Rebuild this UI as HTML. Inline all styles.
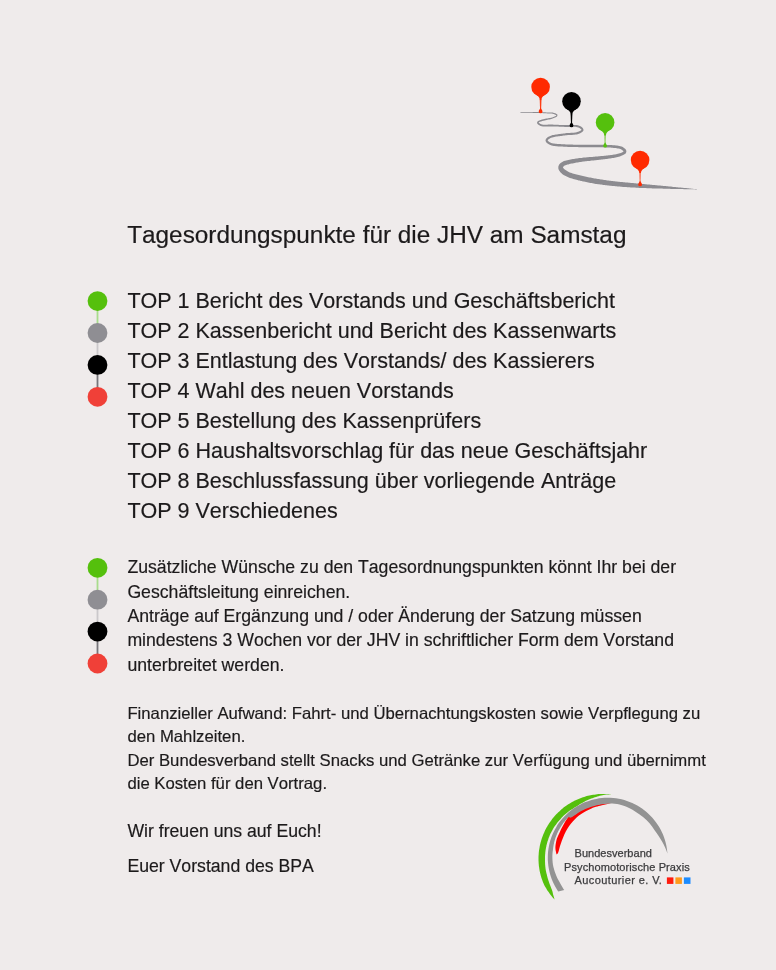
<!DOCTYPE html>
<html><head><meta charset="utf-8"><title>JHV</title>
<style>
html,body{margin:0;padding:0;}
body{width:776px;height:970px;background:#efebeb;position:relative;overflow:hidden;font-family:"Liberation Sans",sans-serif;color:#1c1a1b;}
.t{position:absolute;white-space:nowrap;left:127.4px;font-kerning:none;font-feature-settings:'kern' 0;-webkit-text-stroke:0.18px #1c1a1b;filter:blur(0.35px);}
.lg{position:absolute;white-space:nowrap;font-size:11px;line-height:14px;color:#3b3b3d;-webkit-text-stroke:0.25px #3b3b3d;filter:blur(0.35px);}
svg{position:absolute;left:0;top:0;}
</style></head><body>
<svg width="776" height="970" viewBox="0 0 776 970"><defs><filter id="soft" x="-5%" y="-5%" width="110%" height="110%"><feGaussianBlur stdDeviation="0.45"/></filter></defs><g filter="url(#soft)"><path d="M520.3 112.6 L521.4 112.7 L522.5 112.7 L523.6 112.7 L524.7 112.7 L525.8 112.7 L526.8 112.8 L527.9 112.8 L529.0 112.8 L530.1 112.8 L531.2 112.8 L532.2 112.8 L533.3 112.9 L534.4 112.9 L535.5 112.9 L536.6 112.9 L537.7 113.0 L538.7 113.0 L539.8 113.0 L541.0 113.1 L542.1 113.1 L543.2 113.2 L544.3 113.2 L545.4 113.3 L546.4 113.3 L547.5 113.4 L548.6 113.4 L549.6 113.4 L550.6 113.4 L551.6 113.5 L552.6 113.7 L553.7 113.9 L554.9 114.4 L555.9 114.9 L556.4 115.4 L556.4 115.4 L555.7 115.9 L554.6 116.5 L553.4 117.0 L552.2 117.4 L551.1 117.7 L550.1 117.9 L549.2 118.1 L548.2 118.3 L547.3 118.5 L546.3 118.6 L545.3 118.8 L544.3 119.1 L543.2 119.3 L542.0 119.6 L540.6 120.0 L539.3 120.5 L538.1 121.0 L537.1 122.0 L537.2 123.4 L538.1 124.4 L539.3 125.2 L540.6 125.9 L541.8 126.3 L543.0 126.5 L544.2 126.6 L545.3 126.6 L546.3 126.5 L547.4 126.5 L548.4 126.4 L549.4 126.4 L550.5 126.4 L551.6 126.4 L552.7 126.4 L553.7 126.5 L554.8 126.5 L555.9 126.5 L557.0 126.6 L558.1 126.6 L559.2 126.7 L560.3 126.7 L561.5 126.8 L562.6 126.8 L563.7 126.8 L564.8 126.9 L565.9 126.9 L567.0 126.9 L568.1 126.9 L569.2 126.9 L570.2 126.9 L571.3 126.9 L572.4 126.8 L573.4 126.8 L574.4 126.8 L575.4 126.8 L576.4 127.0 L577.4 127.2 L578.4 127.5 L579.5 128.1 L580.5 128.7 L581.2 129.3 L581.4 129.8 L581.4 129.9 L581.1 130.3 L580.4 130.8 L579.3 131.3 L578.2 131.8 L577.1 132.1 L576.0 132.4 L575.0 132.5 L574.0 132.7 L573.0 132.7 L572.0 132.8 L571.0 132.8 L569.9 132.9 L568.8 132.9 L567.7 133.0 L566.6 133.1 L565.5 133.2 L564.4 133.4 L563.3 133.5 L562.2 133.7 L561.1 133.8 L560.1 134.0 L559.0 134.1 L558.0 134.2 L556.9 134.4 L555.9 134.5 L554.8 134.7 L553.7 134.9 L552.6 135.1 L551.5 135.5 L550.3 135.9 L549.1 136.5 L547.9 137.1 L546.8 138.0 L545.9 139.0 L545.5 140.5 L546.0 141.9 L546.9 143.0 L548.0 143.8 L549.2 144.6 L550.4 145.1 L551.6 145.5 L552.7 145.8 L553.8 146.0 L554.9 146.1 L556.0 146.2 L557.0 146.3 L558.1 146.4 L559.2 146.4 L560.3 146.5 L561.4 146.6 L562.5 146.6 L563.6 146.7 L564.7 146.7 L565.8 146.8 L566.9 146.8 L568.0 146.9 L569.1 146.9 L570.2 147.0 L571.3 147.0 L572.4 147.0 L573.5 147.1 L574.5 147.1 L575.6 147.1 L576.7 147.1 L577.8 147.1 L578.9 147.2 L580.0 147.2 L581.1 147.2 L582.1 147.2 L583.2 147.2 L584.3 147.2 L585.4 147.2 L586.5 147.2 L587.6 147.2 L588.6 147.2 L589.7 147.2 L590.8 147.2 L591.9 147.2 L593.0 147.2 L594.0 147.2 L595.1 147.2 L596.2 147.2 L597.3 147.3 L598.4 147.3 L599.5 147.3 L600.6 147.3 L601.7 147.3 L602.8 147.3 L603.9 147.3 L605.0 147.4 L606.0 147.4 L607.1 147.5 L608.2 147.5 L609.3 147.6 L610.4 147.6 L611.5 147.7 L612.6 147.8 L613.6 147.9 L614.7 148.0 L615.7 148.1 L616.7 148.2 L617.7 148.4 L618.7 148.6 L619.6 148.8 L620.5 149.1 L621.4 149.6 L622.3 150.2 L623.1 150.8 L623.5 151.4 L623.6 151.4 L623.5 151.4 L622.9 151.9 L621.9 152.4 L620.9 152.9 L619.8 153.2 L618.9 153.5 L617.9 153.8 L617.0 154.0 L616.0 154.2 L615.0 154.4 L614.0 154.6 L612.9 154.8 L611.9 154.9 L610.8 155.1 L609.7 155.2 L608.6 155.3 L607.6 155.5 L606.5 155.6 L605.4 155.7 L604.3 155.8 L603.2 155.9 L602.1 156.0 L601.0 156.1 L599.9 156.2 L598.8 156.3 L597.8 156.4 L596.7 156.5 L595.6 156.6 L594.5 156.7 L593.5 156.8 L592.4 156.9 L591.3 157.0 L590.2 157.0 L589.1 157.1 L588.1 157.2 L587.0 157.3 L585.9 157.4 L584.8 157.5 L583.7 157.6 L582.6 157.7 L581.5 157.9 L580.4 158.0 L579.3 158.1 L578.2 158.2 L577.1 158.4 L576.0 158.6 L575.0 158.7 L573.9 158.9 L572.8 159.1 L571.7 159.3 L570.6 159.5 L569.5 159.7 L568.4 160.0 L567.3 160.2 L566.2 160.5 L565.1 160.8 L563.9 161.1 L562.7 161.7 L561.4 162.4 L560.3 163.3 L559.2 164.6 L558.4 166.2 L558.3 168.2 L558.8 170.0 L559.7 171.3 L560.6 172.4 L561.5 173.3 L562.5 174.2 L563.6 174.9 L564.6 175.5 L565.6 176.1 L566.7 176.6 L567.7 177.1 L568.8 177.5 L569.9 177.9 L571.0 178.3 L572.1 178.6 L573.2 179.0 L574.3 179.3 L575.4 179.5 L576.5 179.8 L577.5 180.1 L578.6 180.4 L579.7 180.6 L580.8 180.9 L581.8 181.1 L582.9 181.4 L584.0 181.6 L585.0 181.8 L586.1 182.1 L587.2 182.3 L588.2 182.5 L589.3 182.7 L590.4 182.9 L591.5 183.1 L592.6 183.3 L593.7 183.5 L594.7 183.7 L595.8 183.9 L596.9 184.0 L598.0 184.2 L599.1 184.3 L600.2 184.5 L601.3 184.6 L602.4 184.8 L603.4 184.9 L604.5 185.0 L605.6 185.2 L606.7 185.3 L607.8 185.4 L608.9 185.5 L610.0 185.7 L611.1 185.8 L612.1 185.9 L613.2 186.0 L614.3 186.1 L615.4 186.2 L616.5 186.3 L617.6 186.4 L618.7 186.5 L619.8 186.6 L620.9 186.7 L621.9 186.8 L623.0 186.9 L624.1 186.9 L625.2 187.0 L626.3 187.1 L627.4 187.2 L628.5 187.2 L629.6 187.3 L630.6 187.4 L631.7 187.4 L632.8 187.5 L633.9 187.6 L635.0 187.6 L636.1 187.7 L637.2 187.7 L638.3 187.8 L639.3 187.9 L640.4 187.9 L641.5 188.0 L642.6 188.0 L643.7 188.0 L644.8 188.1 L645.9 188.1 L647.0 188.2 L648.0 188.2 L649.1 188.2 L650.2 188.3 L651.3 188.3 L652.4 188.4 L653.5 188.4 L654.6 188.4 L655.7 188.5 L656.7 188.5 L657.8 188.5 L658.9 188.6 L660.0 188.6 L661.1 188.6 L662.2 188.6 L663.3 188.7 L664.4 188.7 L665.5 188.7 L666.5 188.8 L667.6 188.8 L668.7 188.8 L669.8 188.8 L670.9 188.9 L672.0 188.9 L673.1 188.9 L674.2 188.9 L675.2 189.0 L676.3 189.0 L677.4 189.0 L678.5 189.0 L679.6 189.1 L680.7 189.1 L681.8 189.1 L682.9 189.1 L683.9 189.2 L685.0 189.2 L686.1 189.2 L687.2 189.2 L688.3 189.3 L689.4 189.3 L690.5 189.3 L691.6 189.3 L692.6 189.3 L693.7 189.3 L694.8 189.3 L695.9 189.4 L697.0 189.4 L697.0 189.2 L695.9 189.1 L694.8 189.0 L693.8 188.9 L692.7 188.8 L691.6 188.7 L690.5 188.6 L689.4 188.5 L688.3 188.3 L687.3 188.2 L686.2 188.1 L685.1 188.0 L684.0 187.9 L682.9 187.8 L681.8 187.7 L680.8 187.6 L679.7 187.5 L678.6 187.4 L677.5 187.3 L676.4 187.2 L675.4 187.1 L674.3 187.0 L673.2 186.9 L672.1 186.7 L671.0 186.6 L669.9 186.5 L668.9 186.4 L667.8 186.3 L666.7 186.2 L665.6 186.1 L664.5 186.0 L663.4 185.9 L662.4 185.8 L661.3 185.7 L660.2 185.6 L659.1 185.5 L658.0 185.4 L656.9 185.3 L655.9 185.2 L654.8 185.1 L653.7 185.0 L652.6 184.9 L651.5 184.8 L650.5 184.7 L649.4 184.6 L648.3 184.5 L647.2 184.4 L646.1 184.3 L645.0 184.2 L644.0 184.1 L642.9 184.0 L641.8 183.9 L640.7 183.8 L639.6 183.7 L638.6 183.6 L637.5 183.5 L636.4 183.4 L635.3 183.3 L634.2 183.2 L633.1 183.1 L632.1 183.0 L631.0 182.9 L629.9 182.8 L628.8 182.7 L627.7 182.6 L626.7 182.5 L625.6 182.4 L624.5 182.3 L623.4 182.2 L622.3 182.1 L621.3 182.0 L620.2 181.9 L619.1 181.8 L618.0 181.7 L617.0 181.6 L615.9 181.4 L614.8 181.3 L613.8 181.2 L612.7 181.1 L611.6 180.9 L610.5 180.8 L609.5 180.7 L608.4 180.5 L607.3 180.4 L606.3 180.2 L605.2 180.1 L604.1 179.9 L603.0 179.8 L602.0 179.6 L600.9 179.5 L599.8 179.3 L598.8 179.1 L597.7 179.0 L596.6 178.8 L595.6 178.6 L594.5 178.4 L593.5 178.2 L592.4 178.0 L591.4 177.8 L590.3 177.6 L589.3 177.4 L588.2 177.2 L587.2 177.0 L586.1 176.8 L585.1 176.5 L584.0 176.3 L583.0 176.0 L581.9 175.8 L580.9 175.5 L579.8 175.3 L578.8 175.0 L577.7 174.8 L576.6 174.5 L575.6 174.3 L574.6 174.0 L573.6 173.7 L572.6 173.4 L571.6 173.1 L570.6 172.7 L569.7 172.4 L568.8 172.0 L567.9 171.5 L567.1 171.1 L566.3 170.6 L565.5 170.1 L564.8 169.6 L564.1 169.0 L563.5 168.3 L563.1 167.8 L563.0 167.5 L562.9 167.4 L563.1 167.1 L563.5 166.5 L564.0 166.0 L564.7 165.6 L565.4 165.2 L566.3 164.9 L567.3 164.6 L568.4 164.4 L569.4 164.1 L570.4 163.8 L571.5 163.6 L572.5 163.4 L573.6 163.2 L574.6 162.9 L575.6 162.7 L576.7 162.6 L577.7 162.4 L578.8 162.2 L579.9 162.0 L580.9 161.9 L582.0 161.8 L583.0 161.6 L584.1 161.5 L585.2 161.3 L586.3 161.2 L587.3 161.1 L588.4 161.0 L589.5 160.9 L590.6 160.8 L591.6 160.6 L592.7 160.5 L593.8 160.4 L594.9 160.3 L596.0 160.2 L597.0 160.1 L598.1 159.9 L599.2 159.8 L600.3 159.7 L601.4 159.6 L602.5 159.4 L603.5 159.3 L604.6 159.2 L605.7 159.0 L606.9 158.9 L608.0 158.8 L609.1 158.6 L610.2 158.4 L611.3 158.3 L612.4 158.1 L613.5 157.9 L614.5 157.7 L615.6 157.5 L616.6 157.3 L617.7 157.0 L618.7 156.8 L619.8 156.5 L620.9 156.1 L622.0 155.6 L623.2 155.1 L624.5 154.3 L625.7 153.4 L626.4 151.8 L626.1 150.0 L625.1 148.8 L624.0 147.9 L622.8 147.1 L621.6 146.6 L620.4 146.2 L619.3 145.9 L618.1 145.7 L617.1 145.5 L616.0 145.4 L614.9 145.3 L613.8 145.2 L612.8 145.2 L611.7 145.1 L610.6 145.0 L609.4 145.0 L608.3 144.9 L607.2 144.9 L606.1 144.9 L605.0 144.9 L603.9 144.8 L602.8 144.8 L601.7 144.8 L600.6 144.8 L599.5 144.8 L598.4 144.8 L597.3 144.8 L596.2 144.8 L595.1 144.8 L594.1 144.8 L593.0 144.8 L591.9 144.8 L590.8 144.8 L589.7 144.8 L588.6 144.8 L587.6 144.8 L586.5 144.8 L585.4 144.8 L584.3 144.8 L583.2 144.8 L582.2 144.8 L581.1 144.8 L580.0 144.8 L578.9 144.8 L577.8 144.7 L576.8 144.7 L575.7 144.7 L574.6 144.7 L573.5 144.7 L572.4 144.6 L571.3 144.6 L570.2 144.6 L569.2 144.5 L568.1 144.5 L567.0 144.4 L565.9 144.4 L564.8 144.3 L563.7 144.3 L562.6 144.2 L561.5 144.2 L560.4 144.1 L559.3 144.0 L558.3 144.0 L557.2 143.9 L556.2 143.8 L555.1 143.7 L554.1 143.6 L553.2 143.5 L552.2 143.3 L551.2 142.9 L550.3 142.5 L549.3 141.9 L548.4 141.3 L547.9 140.7 L547.7 140.3 L547.8 140.1 L548.2 139.6 L549.1 138.9 L550.1 138.3 L551.1 137.8 L552.2 137.5 L553.2 137.2 L554.2 136.9 L555.1 136.7 L556.1 136.6 L557.2 136.5 L558.2 136.3 L559.3 136.2 L560.4 136.1 L561.4 135.9 L562.5 135.8 L563.6 135.6 L564.7 135.5 L565.8 135.3 L566.9 135.2 L567.9 135.1 L569.0 135.0 L570.0 135.0 L571.0 134.9 L572.1 134.9 L573.1 134.8 L574.2 134.8 L575.3 134.6 L576.5 134.4 L577.6 134.2 L578.9 133.8 L580.2 133.3 L581.4 132.6 L582.5 131.8 L583.4 130.7 L583.4 129.2 L582.7 128.0 L581.7 127.0 L580.5 126.3 L579.2 125.7 L577.9 125.3 L576.7 125.0 L575.5 124.9 L574.4 124.9 L573.3 124.9 L572.3 124.9 L571.2 125.0 L570.2 125.0 L569.1 125.0 L568.1 125.0 L567.0 125.1 L565.9 125.0 L564.8 125.0 L563.7 125.0 L562.6 125.0 L561.5 125.0 L560.4 124.9 L559.3 124.9 L558.2 124.8 L557.1 124.8 L556.0 124.7 L554.9 124.7 L553.8 124.7 L552.7 124.6 L551.6 124.6 L550.5 124.6 L549.4 124.6 L548.3 124.6 L547.3 124.7 L546.2 124.8 L545.2 124.8 L544.2 124.8 L543.2 124.8 L542.2 124.6 L541.2 124.3 L540.1 123.8 L539.1 123.1 L538.6 122.6 L538.6 122.6 L538.9 122.3 L539.8 121.8 L541.1 121.4 L542.3 121.0 L543.5 120.7 L544.6 120.4 L545.6 120.2 L546.6 119.9 L547.5 119.8 L548.5 119.6 L549.4 119.4 L550.4 119.2 L551.4 118.9 L552.6 118.6 L553.8 118.1 L555.1 117.6 L556.4 117.0 L557.3 116.1 L557.5 114.8 L556.6 113.9 L555.3 113.3 L554.0 112.9 L552.8 112.6 L551.7 112.5 L550.6 112.4 L549.6 112.4 L548.6 112.4 L547.5 112.4 L546.5 112.4 L545.4 112.3 L544.3 112.3 L543.2 112.3 L542.1 112.2 L541.0 112.2 L539.9 112.1 L538.8 112.1 L537.7 112.1 L536.6 112.1 L535.5 112.0 L534.4 112.0 L533.3 112.0 L532.2 112.0 L531.2 112.0 L530.1 112.0 L529.0 112.0 L527.9 112.0 L526.8 112.0 L525.8 112.0 L524.7 112.0 L523.6 112.0 L522.5 112.0 L521.4 112.0 L520.3 112.0Z" fill="#8c8b90"/><g fill="#ff2b00"><circle cx="540.6" cy="87.0" r="9.3"/><path d="M534.4 93.6 Q539.6 96.2 539.8 100.0 L541.4 100.0 Q541.6 96.2 546.8 93.6Z"/><path d="M539.70 99.5 L541.50 99.5 L541.10 110.0 L540.10 110.0Z" opacity="0.90"/><path d="M540.6 107.6 C540.3 109.2 538.7 110.2 538.7 111.4 A1.9 1.9 0 1 0 542.5 111.4 C542.5 110.2 540.9 109.2 540.6 107.6Z"/></g><g fill="#000000"><circle cx="571.5" cy="101.3" r="9.3"/><path d="M565.3 107.9 Q570.5 110.5 570.7 114.3 L572.3 114.3 Q572.5 110.5 577.7 107.9Z"/><path d="M570.60 113.8 L572.40 113.8 L572.00 124.0 L571.00 124.0Z" opacity="1.00"/><path d="M571.5 121.6 C571.2 123.2 569.6 124.2 569.6 125.4 A1.9 1.9 0 1 0 573.4 125.4 C573.4 124.2 571.8 123.2 571.5 121.6Z"/></g><g fill="#55c010"><circle cx="605.1" cy="122.4" r="9.3"/><path d="M598.9 129.0 Q604.1 131.6 604.3 135.4 L605.9 135.4 Q606.1 131.6 611.3 129.0Z"/><path d="M604.20 134.9 L606.00 134.9 L605.60 144.3 L604.60 144.3Z" opacity="0.60"/><path d="M605.1 141.9 C604.8 143.5 603.2 144.5 603.2 145.7 A1.9 1.9 0 1 0 607.0 145.7 C607.0 144.5 605.4 143.5 605.1 141.9Z"/></g><g fill="#ff2b00"><circle cx="640.1" cy="160.1" r="9.3"/><path d="M633.9 166.7 Q639.1 169.3 639.3 173.1 L640.9 173.1 Q641.1 169.3 646.3 166.7Z"/><path d="M639.20 172.6 L641.00 172.6 L640.60 183.0 L639.60 183.0Z" opacity="0.60"/><path d="M640.1 180.6 C639.8 182.2 638.2 183.2 638.2 184.4 A1.9 1.9 0 1 0 642.0 184.4 C642.0 183.2 640.4 182.2 640.1 180.6Z"/></g><rect x="96.6" y="301.1" width="1.8" height="32" fill="#a9dc8c"/><rect x="96.6" y="333.1" width="1.8" height="32" fill="#cbc8cb"/><rect x="96.6" y="365.1" width="1.8" height="32" fill="#77757a"/><circle cx="97.5" cy="301.1" r="9.9" fill="#55c010"/><circle cx="97.5" cy="333.0" r="9.9" fill="#8f8e93"/><circle cx="97.5" cy="364.9" r="9.9" fill="#000000"/><circle cx="97.5" cy="396.8" r="9.9" fill="#f04137"/><rect x="96.6" y="567.8" width="1.8" height="32" fill="#a9dc8c"/><rect x="96.6" y="599.8" width="1.8" height="32" fill="#cbc8cb"/><rect x="96.6" y="631.8" width="1.8" height="32" fill="#77757a"/><circle cx="97.5" cy="567.8" r="9.9" fill="#55c010"/><circle cx="97.5" cy="599.7" r="9.9" fill="#8f8e93"/><circle cx="97.5" cy="631.6" r="9.9" fill="#000000"/><circle cx="97.5" cy="663.5" r="9.9" fill="#f04137"/></g><g filter="url(#soft)"><path d="M611.6 794.3 C611.1 794.3 609.8 794.1 609.0 794.1 C608.1 794.0 607.2 793.9 606.3 793.9 C605.4 793.9 604.5 793.9 603.7 793.9 C602.8 793.9 601.9 793.9 601.0 793.9 C600.1 794.0 599.3 794.0 598.4 794.1 C597.5 794.2 596.6 794.3 595.8 794.4 C594.9 794.5 594.0 794.6 593.1 794.7 C592.3 794.9 591.4 795.0 590.5 795.2 C589.7 795.4 588.8 795.6 588.0 795.8 C587.1 796.0 586.3 796.3 585.4 796.5 C584.6 796.8 583.7 797.0 582.9 797.3 C582.1 797.6 581.3 797.9 580.4 798.2 C579.6 798.5 578.8 798.8 578.0 799.2 C577.2 799.5 576.4 799.9 575.6 800.3 C574.8 800.7 574.0 801.1 573.2 801.5 C572.5 801.9 571.7 802.3 570.9 802.7 C570.2 803.2 569.4 803.6 568.7 804.1 C567.9 804.6 567.2 805.1 566.5 805.6 C565.8 806.1 565.0 806.6 564.3 807.1 C563.6 807.7 563.0 808.2 562.3 808.8 C561.6 809.3 560.9 809.9 560.3 810.5 C559.6 811.1 559.0 811.7 558.3 812.3 C557.7 812.9 557.1 813.5 556.5 814.1 C555.9 814.8 555.3 815.4 554.7 816.1 C554.1 816.7 553.6 817.4 553.0 818.1 C552.5 818.8 551.9 819.5 551.4 820.2 C550.9 820.9 550.4 821.6 549.9 822.3 C549.4 823.0 548.9 823.8 548.4 824.5 C548.0 825.2 547.5 826.0 547.1 826.8 C546.6 827.5 546.2 828.3 545.8 829.1 C545.4 829.8 545.0 830.6 544.6 831.4 C544.3 832.2 543.9 833.0 543.6 833.8 C543.2 834.6 542.9 835.5 542.6 836.3 C542.3 837.1 542.0 837.9 541.7 838.8 C541.4 839.6 541.2 840.4 541.0 841.3 C540.7 842.1 540.5 843.0 540.3 843.8 C540.1 844.7 539.9 845.5 539.7 846.4 C539.6 847.3 539.4 848.1 539.3 849.0 C539.1 849.9 539.0 850.7 538.9 851.6 C538.8 852.5 538.7 853.3 538.7 854.2 C538.6 855.1 538.6 856.0 538.5 856.8 C538.5 857.7 538.5 858.6 538.5 859.5 C538.5 860.3 538.5 861.2 538.6 862.1 C538.6 863.0 538.7 863.8 538.8 864.7 C538.8 865.6 538.9 866.5 539.1 867.3 C539.2 868.2 539.3 869.1 539.5 869.9 C539.6 870.8 539.8 871.6 540.0 872.5 C540.2 873.4 540.4 874.2 540.6 875.1 C540.8 875.9 541.1 876.7 541.3 877.6 C541.6 878.4 541.9 879.2 542.2 880.1 C542.5 880.9 542.8 881.7 543.1 882.5 C543.5 883.3 543.9 884.1 544.2 884.9 C544.6 885.7 545.1 886.4 545.5 887.2 C545.9 887.9 546.4 888.7 546.8 889.4 C547.3 890.2 547.8 890.9 548.2 891.6 C548.7 892.3 549.2 893.0 549.7 893.7 C550.2 894.4 550.7 895.1 551.3 895.8 C551.8 896.5 552.3 897.2 552.9 897.8 C553.5 898.5 554.3 899.4 554.6 899.7 L554.6 899.7 C554.5 899.3 554.1 898.0 553.9 897.1 C553.6 896.2 553.4 895.4 553.1 894.5 C552.9 893.6 552.8 892.7 552.6 891.9 C552.3 891.1 552.1 890.3 551.8 889.5 C551.5 888.7 551.2 888.0 550.9 887.2 C550.6 886.5 550.3 885.7 550.0 885.0 C549.8 884.2 549.5 883.5 549.2 882.7 C548.9 882.0 548.7 881.2 548.4 880.5 C548.2 879.7 547.9 878.9 547.7 878.2 C547.5 877.4 547.3 876.6 547.1 875.9 C546.9 875.1 546.7 874.3 546.5 873.6 C546.3 872.8 546.2 872.0 546.0 871.2 C545.9 870.4 545.7 869.7 545.6 868.9 C545.5 868.1 545.4 867.3 545.3 866.5 C545.3 865.7 545.2 865.0 545.1 864.2 C545.1 863.4 545.1 862.6 545.0 861.8 C545.0 861.0 545.0 860.2 545.0 859.4 C545.0 858.6 545.0 857.9 545.0 857.1 C545.0 856.3 545.1 855.5 545.1 854.7 C545.2 853.9 545.3 853.1 545.3 852.3 C545.4 851.6 545.5 850.8 545.6 850.0 C545.8 849.2 545.9 848.4 546.0 847.7 C546.2 846.9 546.4 846.1 546.5 845.3 C546.7 844.6 546.9 843.8 547.1 843.0 C547.3 842.3 547.5 841.5 547.8 840.8 C548.0 840.0 548.3 839.3 548.5 838.5 C548.8 837.8 549.1 837.0 549.4 836.3 C549.7 835.6 550.0 834.8 550.3 834.1 C550.7 833.4 551.0 832.7 551.4 832.0 C551.7 831.3 552.1 830.6 552.5 829.9 C552.9 829.2 553.3 828.5 553.7 827.8 C554.1 827.2 554.6 826.5 555.0 825.8 C555.5 825.2 555.9 824.5 556.4 823.9 C556.9 823.3 557.3 822.6 557.8 822.0 C558.3 821.4 558.8 820.8 559.4 820.2 C559.9 819.6 560.4 819.0 561.0 818.4 C561.5 817.8 562.1 817.3 562.6 816.7 C563.2 816.2 563.8 815.6 564.4 815.1 C565.0 814.5 565.6 814.0 566.2 813.5 C566.8 813.0 567.4 812.5 568.0 812.0 C568.7 811.5 569.3 811.0 569.9 810.6 C570.6 810.1 571.2 809.7 571.9 809.2 C572.6 808.8 573.2 808.4 573.9 807.9 C574.6 807.5 575.3 807.1 576.0 806.7 C576.6 806.3 577.3 805.8 578.0 805.4 C578.7 805.0 579.4 804.5 580.1 804.1 C580.8 803.7 581.5 803.3 582.2 802.9 C582.9 802.5 583.6 802.1 584.4 801.7 C585.1 801.3 585.8 801.0 586.6 800.6 C587.4 800.2 588.1 799.9 588.9 799.6 C589.7 799.2 590.4 798.9 591.2 798.6 C592.0 798.3 592.8 798.0 593.6 797.7 C594.4 797.4 595.2 797.1 596.1 796.9 C596.9 796.6 597.7 796.4 598.5 796.2 C599.4 795.9 600.2 795.7 601.1 795.5 C601.9 795.3 602.8 795.1 603.7 795.0 C604.5 794.9 605.4 794.7 606.3 794.6 C607.2 794.5 608.0 794.5 608.9 794.4 C609.8 794.4 611.1 794.3 611.6 794.3Z" fill="#55c010"/><path d="M556.6 854.6 C556.4 853.5 555.4 850.4 555.4 848.0 C555.4 845.6 555.9 842.5 556.5 840.0 C557.1 837.5 558.1 835.9 559.3 833.2 C560.5 830.5 562.3 826.7 563.9 824.0 C565.5 821.3 567.4 818.0 568.6 816.8 C569.8 815.6 569.8 817.4 571.0 816.9 C572.2 816.4 574.4 814.8 576.1 813.7 C577.8 812.6 578.6 811.6 581.2 810.3 C583.8 809.0 588.0 807.2 591.5 806.1 C595.0 805.0 598.6 804.3 601.9 803.8 C605.1 803.3 609.5 803.4 611.0 803.3 L601.9 805.3 C600.2 805.8 595.0 806.9 591.5 808.4 C588.0 809.9 584.3 811.9 581.2 814.0 C578.1 816.1 575.6 818.3 573.0 821.2 C570.4 824.1 567.8 827.8 565.8 831.5 C563.8 835.2 562.1 840.2 560.8 843.7 C559.5 847.2 558.9 850.7 558.2 852.5 C557.5 854.3 556.9 854.2 556.6 854.6Z" fill="#ff0000"/><path d="M558.3 891.5 C557.8 890.7 556.2 888.4 555.3 886.7 C554.4 885.1 553.6 883.4 552.8 881.7 C552.1 880.0 551.4 878.2 550.8 876.4 C550.2 874.6 549.7 872.8 549.3 871.0 C548.9 869.1 548.5 867.3 548.3 865.4 C548.1 863.5 547.9 861.7 547.8 859.8 C547.8 857.9 547.8 856.0 547.9 854.1 C548.0 852.3 548.2 850.4 548.5 848.5 C548.8 846.7 549.2 844.8 549.6 843.0 C550.1 841.2 550.6 839.4 551.3 837.6 C551.9 835.8 552.6 834.1 553.4 832.4 C554.2 830.7 555.1 829.0 556.1 827.4 C557.0 825.7 558.0 824.2 559.1 822.6 C560.2 821.1 561.4 819.6 562.7 818.2 C563.9 816.8 565.2 815.4 566.6 814.2 C567.9 812.9 569.4 811.6 570.9 810.5 C572.3 809.3 573.9 808.2 575.5 807.2 C577.1 806.2 578.7 805.3 580.4 804.4 C582.0 803.5 583.8 802.8 585.5 802.1 C587.2 801.4 589.0 800.8 590.8 800.2 C592.6 799.7 594.5 799.2 596.3 798.9 C598.2 798.5 600.0 798.3 601.9 798.1 C603.8 797.9 605.7 797.8 607.6 797.8 C609.4 797.8 611.3 797.9 613.2 798.1 C615.1 798.2 616.9 798.5 618.8 798.8 C620.6 799.2 622.5 799.6 624.3 800.1 C626.1 800.7 627.9 801.3 629.6 802.0 C631.4 802.6 633.1 803.4 634.8 804.3 C636.5 805.1 638.1 806.1 639.7 807.1 C641.3 808.1 642.8 809.1 644.3 810.3 C645.8 811.4 647.2 812.7 648.6 813.9 C650.0 815.2 651.3 816.6 652.6 818.0 C653.8 819.4 655.0 820.9 656.1 822.4 C657.2 823.9 658.2 825.5 659.2 827.1 C660.2 828.7 661.0 830.4 661.8 832.1 C662.7 833.8 663.4 835.5 664.0 837.3 C664.7 839.1 665.2 840.9 665.7 842.7 C666.2 844.5 666.5 846.4 666.8 848.2 C667.1 850.1 667.4 852.9 667.5 853.8 L667.6 853.8 C667.0 852.2 665.5 848.0 663.7 844.5 C661.9 841.0 659.4 837.0 656.6 833.0 C653.8 829.0 650.7 824.1 646.7 820.2 C642.7 816.3 636.6 812.2 632.5 809.7 C628.4 807.2 625.4 806.2 622.0 805.2 C618.6 804.2 615.6 803.6 612.2 803.5 C608.9 803.4 605.4 803.8 601.9 804.3 C598.4 804.8 595.0 805.6 591.5 806.7 C588.0 807.8 583.8 809.7 581.2 811.0 C578.6 812.3 577.8 813.2 576.1 814.3 C574.4 815.4 571.8 817.1 570.9 817.7 L568.4 816.9 C567.6 817.9 565.1 820.5 563.5 822.8 C561.9 825.1 560.1 827.6 558.6 830.5 C557.1 833.4 555.8 836.8 554.8 840.0 C553.8 843.2 553.3 847.0 552.9 850.0 C552.5 853.0 552.3 855.1 552.4 858.0 C552.5 860.9 552.7 864.1 553.4 867.1 C554.1 870.1 555.2 873.2 556.4 876.1 C557.6 879.0 559.4 881.9 560.7 884.2 C562.0 886.5 563.7 889.1 564.3 890.1Z" fill="#939393"/><rect x="666.9" y="877.4" width="6.5" height="6.5" fill="#ff1a10"/><rect x="675.4" y="877.4" width="6.5" height="6.5" fill="#ff9a1a"/><rect x="683.9" y="877.4" width="6.6" height="6.5" fill="#1e8cff"/></g></svg>
<div class="t" style="top:220.96px;font-size:24.35px;line-height:28.00px;margin-left:-0.25px;">Tagesordungspunkte für die JHV am Samstag</div>
<div class="t" style="top:285.75px;font-size:21.50px;line-height:30.00px;">TOP 1 Bericht des Vorstands und Geschäftsbericht</div>
<div class="t" style="top:315.75px;font-size:21.50px;line-height:30.00px;">TOP 2 Kassenbericht und Bericht des Kassenwarts</div>
<div class="t" style="top:345.75px;font-size:21.50px;line-height:30.00px;">TOP 3 Entlastung des Vorstands/ des Kassierers</div>
<div class="t" style="top:375.75px;font-size:21.50px;line-height:30.00px;">TOP 4 Wahl des neuen Vorstands</div>
<div class="t" style="top:405.75px;font-size:21.50px;line-height:30.00px;">TOP 5 Bestellung des Kassenprüfers</div>
<div class="t" style="top:435.75px;font-size:21.50px;line-height:30.00px;">TOP 6 Haushaltsvorschlag für das neue Geschäftsjahr</div>
<div class="t" style="top:465.75px;font-size:21.50px;line-height:30.00px;">TOP 8 Beschlussfassung über vorliegende Anträge</div>
<div class="t" style="top:495.75px;font-size:21.50px;line-height:30.00px;">TOP 9 Verschiedenes</div>
<div class="t" style="top:555.28px;font-size:17.67px;line-height:24.00px;">Zusätzliche Wünsche zu den Tagesordnungspunkten könnt Ihr bei der</div>
<div class="t" style="top:579.63px;font-size:17.67px;line-height:24.00px;">Geschäftsleitung einreichen.</div>
<div class="t" style="top:603.98px;font-size:17.67px;line-height:24.00px;">Anträge auf Ergänzung und / oder Änderung der Satzung müssen</div>
<div class="t" style="top:628.33px;font-size:17.67px;line-height:24.00px;">mindestens 3 Wochen vor der JHV in schriftlicher Form dem Vorstand</div>
<div class="t" style="top:652.68px;font-size:17.67px;line-height:24.00px;">unterbreitet werden.</div>
<div class="t" style="top:702.21px;font-size:16.72px;line-height:23.00px;">Finanzieller Aufwand: Fahrt- und Übernachtungskosten sowie Verpflegung zu</div>
<div class="t" style="top:725.36px;font-size:16.72px;line-height:23.00px;">den Mahlzeiten.</div>
<div class="t" style="top:748.51px;font-size:16.72px;line-height:23.00px;">Der Bundesverband stellt Snacks und Getränke zur Verfügung und übernimmt</div>
<div class="t" style="top:771.66px;font-size:16.72px;line-height:23.00px;">die Kosten für den Vortrag.</div>
<div class="t" style="top:818.58px;font-size:17.65px;line-height:24.00px;">Wir freuen uns auf Euch!</div>
<div class="t" style="top:854.48px;font-size:17.67px;line-height:24.00px;">Euer Vorstand des BPA</div>
<div class="lg" style="left:574.6px;top:845.59px;letter-spacing:0.02px">Bundesverband</div><div class="lg" style="left:564.0px;top:859.59px;letter-spacing:0.1px">Psychomotorische Praxis</div><div class="lg" style="left:574.6px;top:873.09px;letter-spacing:0.4px">Aucouturier e. V.</div>
</body></html>
